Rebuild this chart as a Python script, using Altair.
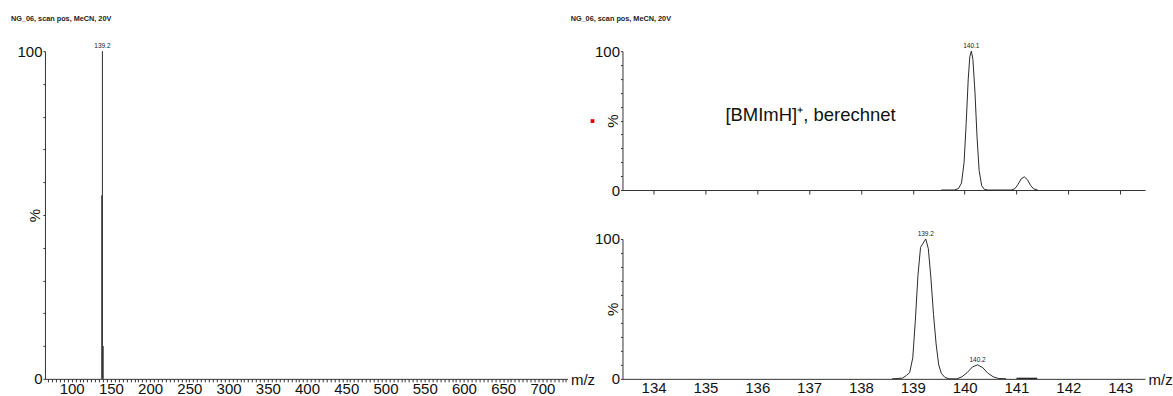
import altair as alt
import pandas as pd

FONT = "Liberation Sans"
TITLE_TEXT = "NG_06, scan pos, MeCN, 20V"
FS = 15

# Left: full scan spectrum (stick peaks)
left_mz = [139.2, 138.4, 140.2]
left_int = [100, 56, 10]
left_lab_mz = [139.2]
left_lab_int = [100]
left_lab_text = ["139.2"]

# Right top: calculated isotope pattern [BMImH]+
calc_mz = [139.55, 139.8, 139.88, 139.94, 139.99, 140.03, 140.07, 140.1, 140.13,
           140.16, 140.2, 140.24, 140.28, 140.33, 140.38, 140.45, 140.9, 140.97,
           141.03, 141.09, 141.15, 141.21, 141.27, 141.33, 141.41]
calc_int = [0, 0, 1, 5, 20, 48, 80, 96, 100,
            94, 70, 38, 14, 3, 0.5, 0, 0, 1,
            4, 8, 9.5, 7.5, 3.5, 0.8, 0]
calc_lab_mz = [140.13]
calc_lab_int = [100]
calc_lab_text = ["140.1"]

# Right bottom: measured spectrum
meas_mz = [138.6, 138.8, 138.88, 138.94, 139.0, 139.05, 139.1, 139.15, 139.2,
           139.25, 139.3, 139.35, 139.4, 139.45, 139.5, 139.55, 139.62, 139.7,
           139.85, 139.95, 140.05, 140.15, 140.25, 140.35, 140.45, 140.55, 140.65, 140.8]
meas_int = [0, 0.5, 2.5, 4.5, 15, 42, 74, 94, 97,
            100, 93, 72, 46, 25, 10, 4, 1, 0,
            0, 1.5, 4.5, 8.5, 10, 8, 4, 1.5, 0.3, 0]
meas_tail_mz = [141.0, 141.4]
meas_tail_int = [0.3, 0.3]
meas_lab_mz = [139.25, 140.25]
meas_lab_int = [100, 10]
meas_lab_text = ["139.2", "140.2"]

LINE = "#2a2a2a"
pct_values = list(range(0, 101, 10))
pct_expr = "datum.value == 0 || datum.value == 100 ? datum.label : ''"


def y_axis(h):
    return alt.Axis(values=pct_values, labelExpr=pct_expr, title="%",
                    titleX=-2, titleY=h / 2, titleFontWeight="normal",
                    titleFontSize=FS, labelFontSize=FS, tickSize=2,
                    labelPadding=1, labelOverlap=False, labelFlush=False, grid=False)


title_params = dict(fontSize=7.3, fontWeight="bold", font=FONT, anchor="start",
                    color="#222")

# ---------------- Left panel ----------------
LW, LH = 523, 328
left_df = pd.DataFrame({"mz": left_mz, "int": left_int})
left_lab = pd.DataFrame({"mz": left_lab_mz, "int": left_lab_int, "t": left_lab_text})
x_left = alt.X("mz:Q", scale=alt.Scale(domain=[66, 732], nice=False, zero=False),
               axis=alt.Axis(values=list(range(70, 731, 5)),
                             labelExpr="datum.value % 50 == 0 && datum.value >= 100 ? datum.label : ''",
                             format="d", title="m/z", titleX=LW + 15, titleY=1,
                             titleBaseline="middle", titleFontWeight="normal",
                             titleFontSize=FS, labelFontSize=FS, tickSize=3,
                             labelPadding=0, labelOverlap=False, labelFlush=False,
                             grid=False))
y_left = alt.Y("int:Q", scale=alt.Scale(domain=[0, 100], nice=False), axis=y_axis(LH))
left_sticks = alt.Chart(left_df).mark_rule(color=LINE, strokeWidth=1).encode(
    x=x_left, y=y_left, y2=alt.datum(0))
left_text = alt.Chart(left_lab).mark_text(fontSize=6.5, baseline="bottom", dy=-2,
                                          font=FONT, color="#222").encode(
    x=x_left, y=y_left, text="t:N")
left = alt.layer(left_sticks, left_text).properties(
    width=LW, height=LH,
    title=alt.TitleParams(TITLE_TEXT, dx=-6, offset=21, **title_params))

# ---------------- Right panels ----------------
RW = 523
x_dom = [133.40, 143.48]
int_vals = list(range(134, 144))

calc_df = pd.DataFrame({"mz": calc_mz, "int": calc_int})
calc_lab = pd.DataFrame({"mz": calc_lab_mz, "int": calc_lab_int, "t": calc_lab_text})
RTH = 139
x_rt = alt.X("mz:Q", scale=alt.Scale(domain=x_dom, nice=False, zero=False),
             axis=alt.Axis(values=int_vals, labels=False, title=None, tickSize=4, grid=False))
y_rt = alt.Y("int:Q", scale=alt.Scale(domain=[0, 100], nice=False), axis=y_axis(RTH))
rt_line = alt.Chart(calc_df).mark_line(color=LINE, strokeWidth=1).encode(x=x_rt, y=y_rt)
rt_text = alt.Chart(calc_lab).mark_text(fontSize=6.5, baseline="bottom", dy=-2,
                                        font=FONT, color="#222").encode(
    x=x_rt, y=y_rt, text="t:N")
rt_annot = alt.Chart(calc_lab).mark_text(fontSize=18.5, align="left", baseline="middle",
                                         font=FONT, color="#111").encode(
    x=alt.value(103), y=alt.value(64), text=alt.datum("[BMImH]⁺, berechnet"))
rt_dot = alt.Chart(calc_lab).mark_square(color="#e00000", size=14, opacity=1).encode(
    x=alt.value(-30), y=alt.value(70))
right_top = alt.layer(rt_line, rt_text, rt_annot, rt_dot).properties(
    width=RW, height=RTH,
    title=alt.TitleParams(TITLE_TEXT, dx=-20, offset=21, **title_params))

meas_df = pd.DataFrame({"mz": meas_mz, "int": meas_int})
tail_df = pd.DataFrame({"mz": meas_tail_mz, "int": meas_tail_int})
meas_lab = pd.DataFrame({"mz": meas_lab_mz, "int": meas_lab_int, "t": meas_lab_text})
RBH = 140
x_rb = alt.X("mz:Q", scale=alt.Scale(domain=x_dom, nice=False, zero=False),
             axis=alt.Axis(values=int_vals, format="d", title="m/z", titleX=RW + 3,
                           titleY=1, titleBaseline="middle", titleAlign="left",
                           titleFontWeight="normal", titleFontSize=FS, labelFontSize=FS,
                           tickSize=0, labelPadding=2, labelOverlap=False, labelFlush=False,
                           grid=False))
y_rb = alt.Y("int:Q", scale=alt.Scale(domain=[0, 100], nice=False), axis=y_axis(RBH))
rb_line = alt.Chart(meas_df).mark_line(color=LINE, strokeWidth=1).encode(x=x_rb, y=y_rb)
rb_tail = alt.Chart(tail_df).mark_line(color=LINE, strokeWidth=1.5).encode(x=x_rb, y=y_rb)
rb_text = alt.Chart(meas_lab).mark_text(fontSize=6.5, baseline="bottom", dy=-2,
                                        font=FONT, color="#222").encode(
    x=x_rb, y=y_rb, text="t:N")
right_bottom = alt.layer(rb_line, rb_tail, rb_text).properties(width=RW, height=RBH)

right = alt.vconcat(right_top, right_bottom, spacing=49, bounds="flush")

chart = alt.hconcat(left, right, spacing=55, bounds="flush").properties(
    padding={"left": 10, "top": 14, "right": 0, "bottom": 0},
    background="white"
).configure_view(stroke=None).configure_axis(
    grid=False, domainColor="#333", tickColor="#333", labelColor="#111",
    titleColor="#111", labelFont=FONT, titleFont=FONT, domainWidth=1
)

chart.save("out.html", embed_options={"renderer": "svg", "actions": False})
